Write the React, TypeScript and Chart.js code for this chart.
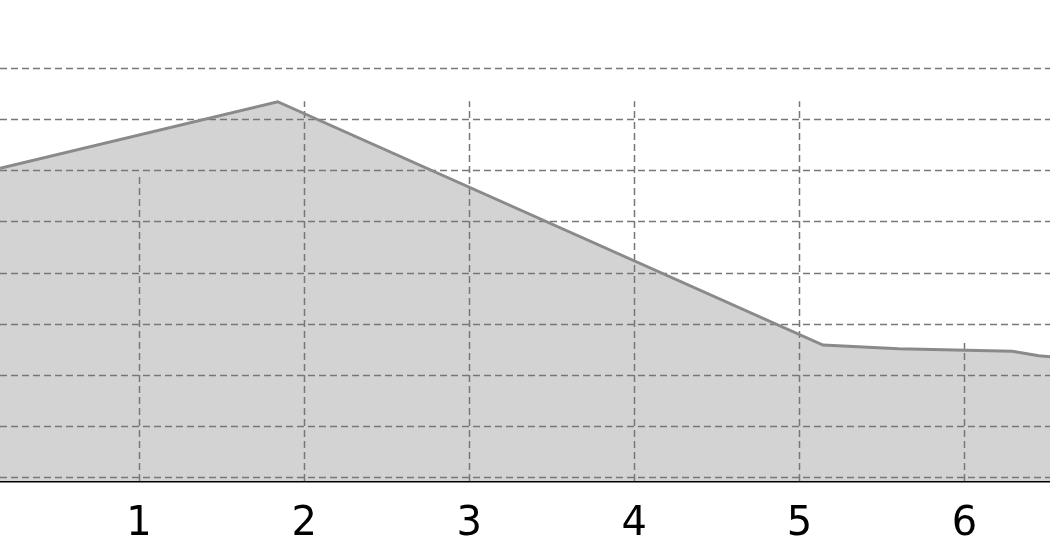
import React, { useEffect, useRef } from 'react';
import { Chart, registerables } from 'chart.js';

Chart.register(...registerables);

// Series (x in axis units, y in axis units)
const xValues = [0.158, 1.84, 5.143, 5.6, 6.29, 6.45, 6.518];
const yValues = [6.04, 7.34, 2.58, 2.51, 2.46, 2.37, 2.35];

// Axis ticks
const xTickValues = [1, 2, 3, 4, 5, 6];
const xTickLabels = ['1', '2', '3', '4', '5', '6'];
const yGridValues = [0, 1, 2, 3, 4, 5, 6, 7, 8];
// Upper ends of the vertical grid lines (y units), one per x tick
const vGridTops = [5.9, 7.35, 7.35, 7.35, 7.35, 2.62];

const xRange = [0.158, 6.518];
const yRange = [-0.078, 9.33];

const gridPlugin = {
  id: 'customGrid',
  beforeDatasetsDraw(chart: any) {
    const { ctx, chartArea, scales } = chart;
    const x = scales.x;
    const y = scales.y;
    ctx.save();
    ctx.beginPath();
    ctx.rect(chartArea.left, chartArea.top, chartArea.right - chartArea.left, chartArea.bottom - chartArea.top);
    ctx.clip();
    ctx.strokeStyle = '#777777';
    ctx.lineWidth = 1.5;
    ctx.setLineDash([7, 4]);
    yGridValues.forEach((v) => {
      const py = Math.round(y.getPixelForValue(v)) + 0.5;
      ctx.beginPath();
      ctx.moveTo(chartArea.left, py);
      ctx.lineTo(chartArea.right, py);
      ctx.stroke();
    });
    xTickValues.forEach((v, i) => {
      const px = Math.round(x.getPixelForValue(v)) + 0.5;
      const top = y.getPixelForValue(vGridTops[i]);
      ctx.beginPath();
      ctx.moveTo(px, chartArea.bottom);
      ctx.lineTo(px, top);
      ctx.stroke();
    });
    ctx.restore();
  },
};

export default function App() {
  const canvasRef = useRef<HTMLCanvasElement | null>(null);

  useEffect(() => {
    if (!canvasRef.current) return;
    const chart = new Chart(canvasRef.current, {
      type: 'line',
      data: {
        datasets: [
          {
            data: xValues.map((xv, i) => ({ x: xv, y: yValues[i] })),
            borderColor: '#8a8a8a',
            borderWidth: 3,
            backgroundColor: '#d3d3d3',
            fill: 'start',
            pointRadius: 0,
            tension: 0,
          },
        ],
      },
      options: {
        animation: false,
        responsive: true,
        maintainAspectRatio: false,
        layout: { padding: 0 },
        plugins: {
          legend: { display: false },
          tooltip: { enabled: false },
          filler: { drawTime: 'beforeDatasetsDraw' },
        },
        scales: {
          x: {
            type: 'linear',
            min: xRange[0],
            max: xRange[1],
            afterBuildTicks: (scale: any) => {
              scale.ticks = xTickValues.map((v) => ({ value: v }));
            },
            ticks: {
              callback: (v: any) => {
                const idx = xTickValues.indexOf(Number(v));
                return idx >= 0 ? xTickLabels[idx] : '';
              },
              font: { family: 'DejaVu Sans', size: 40 },
              color: '#000000',
              padding: 11,
              maxRotation: 0,
              autoSkip: false,
            },
            grid: {
              display: true,
              drawOnChartArea: false,
              drawTicks: true,
              tickLength: 9,
              tickColor: 'transparent',
              color: 'transparent',
            },
            border: { display: true, color: '#000000', width: 2.5 },
          },
          y: {
            display: false,
            min: yRange[0],
            max: yRange[1],
          },
        },
      } as any,
      plugins: [gridPlugin],
    });
    return () => chart.destroy();
  }, []);

  return (
    <div style={{ position: 'absolute', left: 0, top: 0, width: 1050, height: 560 }}>
      <canvas ref={canvasRef} />
    </div>
  );
}
